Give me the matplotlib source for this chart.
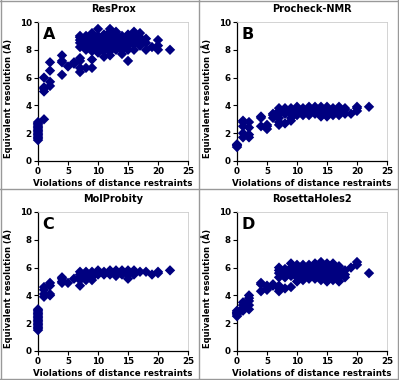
import matplotlib
matplotlib.use("Agg")
import matplotlib.pyplot as plt
from matplotlib.lines import Line2D

titles = ["ResProx", "Procheck-NMR", "MolProbity", "RosettaHoles2"]
letters = ["A", "B", "C", "D"]
xlabel = "Violations of distance restraints"
ylabel = "Equivalent resolution (Å)"

# Panel A: ResProx
a_x = [0]*14 + [1]*5 + [2]*4 + [4]*4 + [5] + [6]*2 + [7]*9 + [8]*6 + [9]*7 + [10]*7 + [11]*7 + [12]*8 + [13]*7 + [14]*6 + [15]*6 + [16]*6 + [17]*4 + [18]*3 + [19] + [20]*3 + [22]
a_y = [1.5, 1.6, 1.7, 1.8, 1.9, 2.0, 2.1, 2.2, 2.3, 2.4, 2.5, 2.6, 2.7, 2.8,
       3.0, 5.0, 5.2, 5.3, 6.0,
       5.4, 5.7, 6.5, 7.1,
       6.2, 7.1, 7.2, 7.6,
       6.8,
       7.0, 7.1,
       6.4, 6.7, 7.2, 7.4, 8.2, 8.5, 8.7, 8.9, 9.0,
       6.7, 8.0, 8.3, 8.5, 8.7, 9.0,
       6.7, 7.3, 7.9, 8.2, 8.5, 8.8, 9.2,
       7.8, 8.0, 8.3, 8.5, 8.7, 9.0, 9.5,
       7.5, 7.9, 8.1, 8.4, 8.6, 8.8, 9.1,
       7.6, 7.9, 8.2, 8.5, 8.8, 9.0, 9.3, 9.5,
       8.0, 8.2, 8.5, 8.7, 8.9, 9.1, 9.3,
       7.7, 8.0, 8.3, 8.6, 8.8, 9.0,
       7.2, 8.0, 8.3, 8.6, 8.9, 9.1,
       8.0, 8.4, 8.6, 8.8, 9.1, 9.3,
       8.3, 8.6, 8.9, 9.2,
       8.0, 8.5, 8.8,
       8.2,
       8.0, 8.3, 8.7,
       8.0]

# Panel B: Procheck-NMR
b_x = [0]*4 + [1]*5 + [2]*4 + [4]*3 + [5]*3 + [6]*3 + [7]*6 + [8]*4 + [9]*5 + [10]*5 + [11]*5 + [12]*5 + [13]*5 + [14]*5 + [15]*5 + [16]*5 + [17]*5 + [18]*3 + [19] + [20]*3 + [22]
b_y = [1.0, 1.1, 1.15, 1.2,
       1.7, 2.0, 2.5, 2.8, 2.9,
       1.7, 1.9, 2.4, 2.8,
       2.5, 3.1, 3.2,
       2.3, 2.5, 2.6,
       3.1, 3.3, 3.4,
       2.6, 2.8, 3.1, 3.4, 3.6, 3.8,
       2.7, 3.4, 3.6, 3.8,
       2.9, 3.1, 3.4, 3.6, 3.8,
       3.3, 3.5, 3.6, 3.7, 3.9,
       3.3, 3.4, 3.6, 3.7, 3.8,
       3.3, 3.5, 3.6, 3.7, 3.9,
       3.4, 3.5, 3.6, 3.8, 3.9,
       3.2, 3.4, 3.6, 3.7, 3.9,
       3.2, 3.4, 3.6, 3.7, 3.9,
       3.3, 3.5, 3.6, 3.7, 3.8,
       3.3, 3.5, 3.6, 3.8, 3.9,
       3.4, 3.7, 3.8,
       3.4,
       3.6, 3.8, 3.9,
       3.9]

# Panel C: MolProbity
c_x = [0]*16 + [1]*4 + [2]*4 + [4]*4 + [5] + [6] + [7]*5 + [8]*4 + [9]*4 + [10]*3 + [11]*3 + [12]*3 + [13]*4 + [14]*3 + [15]*4 + [16]*3 + [17] + [18] + [19] + [20]*2 + [22]
c_y = [1.5, 1.6, 1.7, 1.8, 1.9, 2.0, 2.1, 2.2, 2.3, 2.4, 2.5, 2.6, 2.7, 2.8, 2.9, 3.0,
       3.9, 4.1, 4.4, 4.6,
       4.0, 4.1, 4.7, 4.9,
       4.9, 5.0, 5.2, 5.3,
       4.9,
       5.2,
       4.7, 5.1, 5.3, 5.5, 5.7,
       5.1, 5.3, 5.5, 5.7,
       5.1, 5.3, 5.5, 5.7,
       5.5, 5.7, 5.8,
       5.5, 5.6, 5.7,
       5.5, 5.7, 5.8,
       5.4, 5.5, 5.7, 5.8,
       5.5, 5.7, 5.8,
       5.2, 5.5, 5.7, 5.8,
       5.5, 5.7, 5.8,
       5.7,
       5.7,
       5.5,
       5.6, 5.7,
       5.8]

# Panel D: RosettaHoles2
d_x = [0]*6 + [1]*4 + [2]*5 + [4]*3 + [5]*3 + [6]*2 + [7]*7 + [8]*4 + [9]*5 + [10]*7 + [11]*7 + [12]*6 + [13]*7 + [14]*7 + [15]*7 + [16]*7 + [17]*6 + [18]*3 + [19] + [20]*2 + [22]
d_y = [2.5, 2.6, 2.7, 2.75, 2.8, 2.9,
       2.9, 3.1, 3.3, 3.5,
       3.0, 3.3, 3.6, 3.8, 4.0,
       4.3, 4.8, 4.9,
       4.4, 4.5, 4.7,
       4.7, 4.8,
       4.3, 4.5, 4.7, 5.3, 5.6, 5.8, 6.0,
       4.5, 5.3, 5.6, 5.9,
       4.6, 5.4, 5.7, 6.0, 6.3,
       5.0, 5.3, 5.5, 5.7, 5.9, 6.0, 6.2,
       5.1, 5.3, 5.5, 5.7, 5.9, 6.1, 6.2,
       5.2, 5.4, 5.6, 5.8, 6.0, 6.2,
       5.2, 5.4, 5.6, 5.8, 6.0, 6.2, 6.3,
       5.1, 5.3, 5.5, 5.7, 5.9, 6.2, 6.4,
       5.0, 5.3, 5.5, 5.7, 5.9, 6.1, 6.3,
       5.1, 5.3, 5.5, 5.7, 5.9, 6.1, 6.3,
       5.0, 5.3, 5.5, 5.7, 5.9, 6.1,
       5.3, 5.5, 5.8,
       6.0,
       6.2, 6.4,
       5.6]

xs = [a_x, b_x, c_x, d_x]
ys = [a_y, b_y, c_y, d_y]

W, H = 399, 380
fig = plt.figure(figsize=(W/100, H/100), dpi=100)
plt.rcParams['font.family'] = ['DejaVu Sans']

lefts = [38, 237, 38, 237]
tops = [22, 22, 212, 212]
aw, ah = 150, 139

color = "#000080"
for i in range(4):
    ax = fig.add_axes([lefts[i]/W, 1 - (tops[i] + ah)/H, aw/W, ah/H])
    ax.scatter(xs[i], ys[i], marker="D", s=28, color=color, edgecolors="none",
               zorder=3, clip_on=False)
    ax.set_xlim(0, 25)
    ax.set_ylim(0, 10)
    ax.set_xticks([0, 5, 10, 15, 20, 25])
    ax.set_yticks([0, 2, 4, 6, 8, 10])
    ax.tick_params(labelsize=6.3, length=3, width=0.8, pad=1.5)
    for lab in ax.get_xticklabels() + ax.get_yticklabels():
        lab.set_fontweight("bold")
    ax.spines["top"].set_color("#cccccc")
    ax.spines["right"].set_color("#cccccc")
    ax.spines["top"].set_linewidth(0.6)
    ax.spines["right"].set_linewidth(0.6)
    ax.spines["left"].set_linewidth(0.9)
    ax.spines["bottom"].set_linewidth(0.9)
    ax.set_xlabel(xlabel, fontsize=6.3, fontweight="bold", labelpad=2)
    ax.set_ylabel(ylabel, fontsize=6.0, fontweight="bold", labelpad=3)
    ax.yaxis.set_label_coords(-0.165, 0.45)
    ax.set_title(titles[i], fontsize=7, fontweight="bold", pad=7)
    ax.text(0.03, 0.965, letters[i], transform=ax.transAxes, fontsize=11.5,
            fontweight="bold", va="top", ha="left")

# panel borders
gray = "#999999"
lw = 1.0
fig.add_artist(Line2D([0.002, 0.002], [0, 1], color=gray, lw=lw, transform=fig.transFigure))
fig.add_artist(Line2D([0.998, 0.998], [0, 1], color=gray, lw=lw, transform=fig.transFigure))
fig.add_artist(Line2D([0, 1], [0.002, 0.002], color=gray, lw=lw, transform=fig.transFigure))
fig.add_artist(Line2D([0, 1], [0.998, 0.998], color=gray, lw=lw, transform=fig.transFigure))
fig.add_artist(Line2D([199/W, 199/W], [0, 1], color=gray, lw=lw, transform=fig.transFigure))
fig.add_artist(Line2D([0, 1], [1 - 189/H, 1 - 189/H], color=gray, lw=lw, transform=fig.transFigure))

fig.savefig("out.png", dpi=100)
